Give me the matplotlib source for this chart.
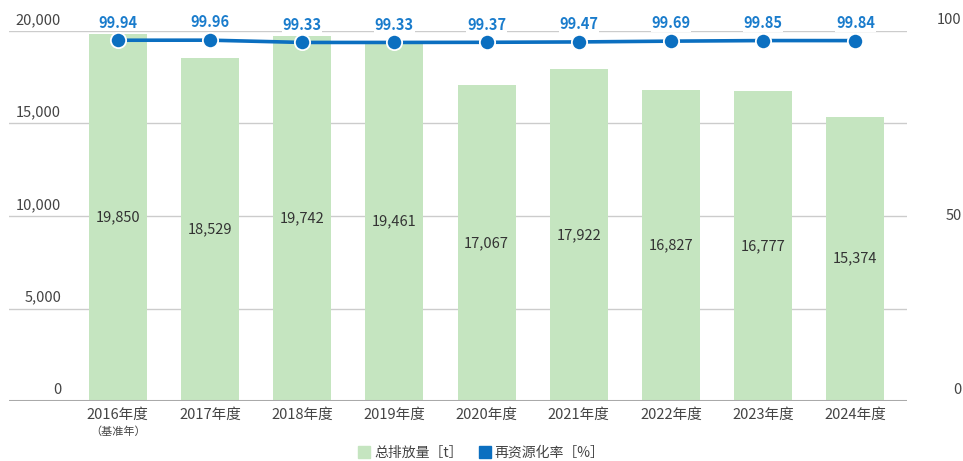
import matplotlib
matplotlib.use("Agg")
import matplotlib.pyplot as plt
from matplotlib.lines import Line2D

plt.rcParams['font.family'] = ['Noto Sans CJK SC', 'DejaVu Sans']

years = ["2016年度", "2017年度", "2018年度", "2019年度", "2020年度",
         "2021年度", "2022年度", "2023年度", "2024年度"]
emissions = [19850, 18529, 19742, 19461, 17067, 17922, 16827, 16777, 15374]
recycle_rate = [99.94, 99.96, 99.33, 99.33, 99.37, 99.47, 99.69, 99.85, 99.84]
left_ticks = [0, 5000, 10000, 15000, 20000]
right_ticks = [0, 50, 100]

bar_color = "#c5e5c0"
line_color = "#0b6fc0"
label_blue = "#1a7ccc"
text_color = "#444444"
grid_color = "#cccccc"

fig = plt.figure(figsize=(9.63, 4.61), dpi=100)
ax = fig.add_axes([9/963, 60/461, (907-9)/963, 370/461])
x = list(range(len(years)))

ax.set_xlim(-1.18, 8.56)
ax.set_ylim(0, 20000)
for t in left_ticks[1:]:
    ax.axhline(t, color=grid_color, lw=1, zorder=0)
ax.axhline(0, color="#aaaaaa", lw=2.2, zorder=3)

ax.bar(x, emissions, width=0.63, color=bar_color, zorder=1)
for xi, v in zip(x, emissions):
    ax.text(xi, v / 2, f"{v:,}", ha="center", va="center",
            fontsize=10.5, color="#333333", zorder=4)

for spine in ax.spines.values():
    spine.set_visible(False)
ax.set_yticks([])
ax.set_xticks(x)
ax.set_xticklabels(years, fontsize=10.5, color=text_color)
ax.tick_params(axis="x", length=0, pad=5)
ax.text(0, -0.068, "（基准年）", transform=ax.get_xaxis_transform(),
        ha="center", va="top", fontsize=8, color=text_color)

# left tick labels above gridlines
for t in left_ticks:
    ax.annotate(f"{t:,}", xy=(0.058, t), xycoords=("axes fraction", "data"),
                xytext=(0, 3), textcoords="offset points",
                ha="right", va="bottom", fontsize=10.5, color=text_color)

# right axis labels
offsets = {0: (3, "bottom"), 50: (0, "center"), 100: (3, "bottom")}
for rt in right_ticks:
    lev = rt / 100 * 20000
    dy, va = offsets[rt]
    ax.annotate(f"{rt}", xy=(1.0, lev), xycoords=("axes fraction", "data"),
                xytext=(39.5, dy), textcoords="offset points",
                ha="right", va=va, fontsize=10.5, color=text_color,
                annotation_clip=False)

ax2 = ax.twinx()
ax2.set_ylim(0, 102.5)
ax2.set_position(ax.get_position())
for spine in ax2.spines.values():
    spine.set_visible(False)
ax2.set_yticks([])
ax2.plot(x, recycle_rate, color=line_color, lw=2.6, marker="o", ms=11,
         markeredgecolor="white", markeredgewidth=1.3, zorder=5, clip_on=False)
for xi, v in zip(x, recycle_rate):
    ax2.annotate(f"{v:.2f}", xy=(xi, v), xytext=(0, 7), textcoords="offset points",
                 ha="center", va="bottom", fontsize=10.5, fontweight="bold",
                 color=label_blue, annotation_clip=False,
                 bbox=dict(boxstyle="square,pad=0.05", fc="white", ec="none"))

handles = [Line2D([], [], marker="s", ls="none", ms=8, color=bar_color),
           Line2D([], [], marker="s", ls="none", ms=8, color=line_color)]
fig.legend(handles, ["总排放量［t］", "再资源化率［%］"], loc="lower center",
           bbox_to_anchor=(0.5, -0.025), ncol=2, frameon=False, fontsize=10,
           handlelength=0.8, handletextpad=0.3, columnspacing=1.2,
           labelcolor=text_color)

fig.savefig("out.png", dpi=100)
